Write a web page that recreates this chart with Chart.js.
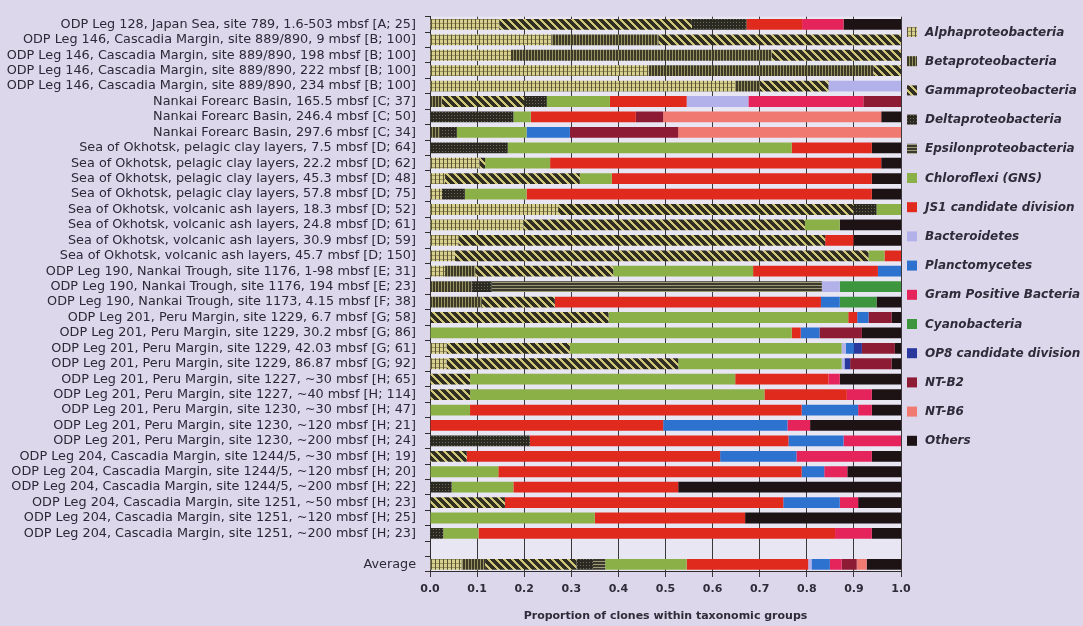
<!DOCTYPE html>
<html>
<head>
<meta charset="utf-8">
<script src="https://cdn.jsdelivr.net/npm/chart.js@4.4.1/dist/chart.umd.min.js"></script>
<style>
  html, body { margin: 0; padding: 0; background: #dcd7ea; }
  #wrap { width: 1083px; height: 626px; }
</style>
</head>
<body>
<div id="wrap"><canvas id="cloneChart" width="1083" height="626"></canvas></div>
<script>
Chart.defaults.animation = false;

// ---- sample labels (one row per clone library, plus a blank spacer and the average) ----
const samples = [
  "ODP Leg 128, Japan Sea, site 789, 1.6-503 mbsf [A; 25]",
  "ODP Leg 146, Cascadia Margin, site 889/890, 9 mbsf [B; 100]",
  "ODP Leg 146, Cascadia Margin, site 889/890, 198 mbsf [B; 100]",
  "ODP Leg 146, Cascadia Margin, site 889/890, 222 mbsf [B; 100]",
  "ODP Leg 146, Cascadia Margin, site 889/890, 234 mbsf [B; 100]",
  "Nankai Forearc Basin, 165.5 mbsf [C; 37]",
  "Nankai Forearc Basin, 246.4 mbsf [C; 50]",
  "Nankai Forearc Basin, 297.6 mbsf [C; 34]",
  "Sea of Okhotsk, pelagic clay layers, 7.5 mbsf [D; 64]",
  "Sea of Okhotsk, pelagic clay layers, 22.2 mbsf [D; 62]",
  "Sea of Okhotsk, pelagic clay layers, 45.3 mbsf [D; 48]",
  "Sea of Okhotsk, pelagic clay layers, 57.8 mbsf [D; 75]",
  "Sea of Okhotsk, volcanic ash layers, 18.3 mbsf [D; 52]",
  "Sea of Okhotsk, volcanic ash layers, 24.8 mbsf [D; 61]",
  "Sea of Okhotsk, volcanic ash layers, 30.9 mbsf [D; 59]",
  "Sea of Okhotsk, volcanic ash layers, 45.7 mbsf [D; 150]",
  "ODP Leg 190, Nankai Trough, site 1176, 1-98 mbsf [E; 31]",
  "ODP Leg 190, Nankai Trough, site 1176, 194 mbsf [E; 23]",
  "ODP Leg 190, Nankai Trough, site 1173, 4.15 mbsf [F; 38]",
  "ODP Leg 201, Peru Margin, site 1229, 6.7 mbsf [G; 58]",
  "ODP Leg 201, Peru Margin, site 1229, 30.2 mbsf [G; 86]",
  "ODP Leg 201, Peru Margin, site 1229, 42.03 mbsf [G; 61]",
  "ODP Leg 201, Peru Margin, site 1229, 86.87 mbsf [G; 92]",
  "ODP Leg 201, Peru Margin, site 1227, ~30 mbsf [H; 65]",
  "ODP Leg 201, Peru Margin, site 1227, ~40 mbsf [H; 114]",
  "ODP Leg 201, Peru Margin, site 1230, ~30 mbsf [H; 47]",
  "ODP Leg 201, Peru Margin, site 1230, ~120 mbsf [H; 21]",
  "ODP Leg 201, Peru Margin, site 1230, ~200 mbsf [H; 24]",
  "ODP Leg 204, Cascadia Margin, site 1244/5, ~30 mbsf [H; 19]",
  "ODP Leg 204, Cascadia Margin, site 1244/5, ~120 mbsf [H; 20]",
  "ODP Leg 204, Cascadia Margin, site 1244/5, ~200 mbsf [H; 22]",
  "ODP Leg 204, Cascadia Margin, site 1251, ~50 mbsf [H; 23]",
  "ODP Leg 204, Cascadia Margin, site 1251, ~120 mbsf [H; 25]",
  "ODP Leg 204, Cascadia Margin, site 1251, ~200 mbsf [H; 23]",
  "",
  "Average"
];

// ---- proportion of clones per group, same order as samples ----
const alpha      = [0.147,0.258,0.172,0.464,0.648,0,0,0,0,0.105,0.032,0.025,0.272,0.198,0.060,0.053,0.032,0,0,0,0,0.035,0.035,0,0,0,0,0,0,0,0,0,0,0,0,0.067];
const beta       = [0,0.227,0.553,0.477,0.052,0.025,0,0.021,0,0,0,0,0,0,0,0,0.064,0.088,0.110,0,0,0,0,0,0,0,0,0,0,0,0,0,0,0,0,0.050];
const gamma      = [0.409,0.515,0.275,0.059,0.146,0.175,0,0,0,0.012,0.286,0,0.627,0.598,0.779,0.878,0.293,0,0.155,0.379,0,0.262,0.492,0.085,0.085,0,0,0,0.078,0,0,0.159,0,0,0,0.194];
const delta      = [0.116,0,0,0,0,0.048,0.177,0.036,0.165,0,0,0.049,0.049,0,0,0,0,0.043,0,0,0,0,0,0,0,0,0,0.212,0,0,0.046,0,0,0.028,0,0.035];
const epsilon    = [0,0,0,0,0,0,0,0,0,0,0,0,0,0,0,0,0,0.701,0,0,0,0,0,0,0,0,0,0,0,0,0,0,0,0,0,0.026];
const chloroflexi= [0,0,0,0,0,0.134,0.037,0.148,0.603,0.138,0.068,0.131,0.052,0.074,0,0.034,0.297,0,0,0.509,0.768,0.577,0.347,0.563,0.625,0.085,0,0,0,0.145,0.131,0,0.350,0.075,0,0.173];
const js1        = [0.118,0,0,0,0,0.163,0.223,0,0.170,0.703,0.552,0.733,0,0,0.060,0.035,0.265,0,0.565,0.019,0.019,0,0,0.198,0.175,0.704,0.495,0.549,0.538,0.644,0.350,0.591,0.319,0.757,0,0.258];
const bacteroid  = [0,0,0,0,0.154,0.131,0,0,0,0,0,0,0,0,0,0,0,0.038,0,0,0,0.009,0.006,0,0,0,0,0,0,0,0,0,0,0,0,0.007];
const plancto    = [0,0,0,0,0,0,0,0.092,0,0,0,0,0,0,0,0,0.049,0,0.040,0.024,0.040,0.017,0,0,0,0.120,0.264,0.117,0.162,0.048,0,0.120,0,0,0,0.039];
const gramPos    = [0.088,0,0,0,0,0.244,0,0,0,0,0,0,0,0,0,0,0,0,0,0,0,0,0,0.024,0.053,0.029,0.048,0.122,0.160,0.049,0,0.039,0,0.078,0,0.025];
const cyano      = [0,0,0,0,0,0,0,0,0,0,0,0,0,0,0,0,0,0.130,0.078,0,0,0,0,0,0,0,0,0,0,0,0,0,0,0,0,0];
const op8        = [0,0,0,0,0,0,0,0,0,0,0,0,0,0,0,0,0,0,0,0,0,0.017,0.012,0,0,0,0,0,0,0,0,0,0,0,0,0];
const ntb2       = [0,0,0,0,0,0.080,0.058,0.230,0,0,0,0,0,0,0,0,0,0,0,0.049,0.090,0.070,0.088,0,0,0,0,0,0,0,0,0,0,0,0,0.032];
const ntb6       = [0,0,0,0,0,0,0.463,0.473,0,0,0,0,0,0,0,0,0,0,0,0,0,0,0,0,0,0,0,0,0,0,0,0,0,0,0,0.021];
const others     = [0.122,0,0,0,0,0,0.042,0,0.062,0.042,0.062,0.062,0,0.130,0.101,0,0,0,0.052,0.020,0.083,0.013,0.020,0.130,0.062,0.062,0.193,0,0.062,0.114,0.473,0.091,0.331,0.062,0,0.073];

const xTicks = [0, 0.1, 0.2, 0.3, 0.4, 0.5, 0.6, 0.7, 0.8, 0.9, 1.0];

// ---- hatched fills for the proteobacteria ----
const canvas = document.getElementById("cloneChart");
const mainCtx = canvas.getContext("2d");

function makePattern(w, h, paint) {
  const c = document.createElement("canvas");
  c.width = w; c.height = h;
  const g = c.getContext("2d");
  for (let y = 0; y < h; y++) {
    for (let x = 0; x < w; x++) {
      g.fillStyle = paint(x, y);
      g.fillRect(x, y, 1, 1);
    }
  }
  return mainCtx.createPattern(c, "repeat");
}

const alphaFill = makePattern(4, 4, (x, y) => x === 3 ? "#5a5434" : (y === 3 ? "#9c955f" : "#d6cf8e"));
const betaFill  = makePattern(3, 1, (x) => x === 0 ? "#96925f" : "#3d3b28");
const gammaFill = makePattern(8, 8, (x, y) => (((x - y) % 8) + 8) % 8 < 3 ? "#cfc67a" : "#302e20");
const deltaFill = makePattern(3, 3, (x, y) => (x === 1 && y === 1) ? "#6e6a52" : "#2b2a22");
const epsFill   = makePattern(1, 3, (x, y) => y === 0 ? "#9c9a78" : "#3b392b");

const groups = [
  ["Alphaproteobacteria", alpha, alphaFill],
  ["Betaproteobacteria", beta, betaFill],
  ["Gammaproteobacteria", gamma, gammaFill],
  ["Deltaproteobacteria", delta, deltaFill],
  ["Epsilonproteobacteria", epsilon, epsFill],
  ["Chloroflexi (GNS)", chloroflexi, "#8cb048"],
  ["JS1 candidate division", js1, "#e02a1e"],
  ["Bacteroidetes", bacteroid, "#b3b1ea"],
  ["Planctomycetes", plancto, "#2e72d0"],
  ["Gram Positive Bacteria", gramPos, "#e4245a"],
  ["Cyanobacteria", cyano, "#3d963e"],
  ["OP8 candidate division", op8, "#2a389e"],
  ["NT-B2", ntb2, "#8c1b33"],
  ["NT-B6", ntb6, "#f07a72"],
  ["Others", others, "#1d1315"]
];

// light panel behind the bars
const panelBg = {
  id: "panelBg",
  beforeDraw(chart) {
    const a = chart.chartArea;
    const ctx = chart.ctx;
    ctx.save();
    ctx.fillStyle = "#e9e6f4";
    ctx.fillRect(a.left, a.top, a.right - a.left, a.bottom - a.top);
    ctx.restore();
  }
};

// legend column on the right
const sideLegend = {
  id: "sideLegend",
  afterDraw(chart) {
    const ctx = chart.ctx;
    const x0 = chart.chartArea.right + 6;
    ctx.save();
    ctx.font = "italic bold 12px 'DejaVu Sans'";
    ctx.textBaseline = "middle";
    chart.data.datasets.forEach((ds, i) => {
      const y = 32 + i * 29.2;
      ctx.fillStyle = ds.backgroundColor;
      ctx.fillRect(x0, y - 5, 10, 10);
      ctx.fillStyle = "#2e2b3a";
      ctx.fillText(ds.label, x0 + 18, y + 0.5);
    });
    ctx.restore();
  }
};

new Chart(canvas, {
  type: "bar",
  data: {
    labels: samples,
    datasets: groups.map(([label, values, fill]) => ({
      label: label,
      data: values,
      backgroundColor: fill,
      borderWidth: 0,
      barPercentage: 0.7,
      categoryPercentage: 1.0
    }))
  },
  options: {
    indexAxis: "y",
    responsive: false,
    animation: false,
    layout: { padding: { left: 0, right: 182, top: 10, bottom: 0 } },
    plugins: {
      legend: { display: false },
      tooltip: { enabled: false }
    },
    scales: {
      x: {
        stacked: true,
        min: 0,
        max: 1,
        afterBuildTicks(scale) { scale.ticks = xTicks.map(v => ({ value: v })); },
        afterFit(scale) { scale.height = 54; },
        ticks: {
          callback: v => Number(v).toFixed(1),
          color: "#2e2b3a",
          font: { family: "DejaVu Sans", size: 11, weight: "bold" },
          padding: 6,
          maxRotation: 0
        },
        grid: { color: "#3a3838", lineWidth: 1, tickLength: 5 },
        border: { display: true, color: "#2e2c2c", width: 1 },
        title: {
          display: true,
          text: "Proportion of clones within taxonomic groups",
          color: "#2e2b3a",
          font: { family: "DejaVu Sans", size: 11, weight: "bold" },
          padding: { top: 0, bottom: 3 }
        }
      },
      y: {
        stacked: true,
        afterFit(scale) { scale.width = 430; },
        ticks: {
          autoSkip: false,
          color: "#2b2838",
          font: { family: "DejaVu Sans", size: 12.8 },
          padding: 9
        },
        grid: { drawOnChartArea: false, color: "#2e2c2c", tickLength: 5 },
        border: { display: true, color: "#2e2c2c", width: 1 }
      }
    }
  },
  plugins: [panelBg, sideLegend]
});
</script>
</body>
</html>
